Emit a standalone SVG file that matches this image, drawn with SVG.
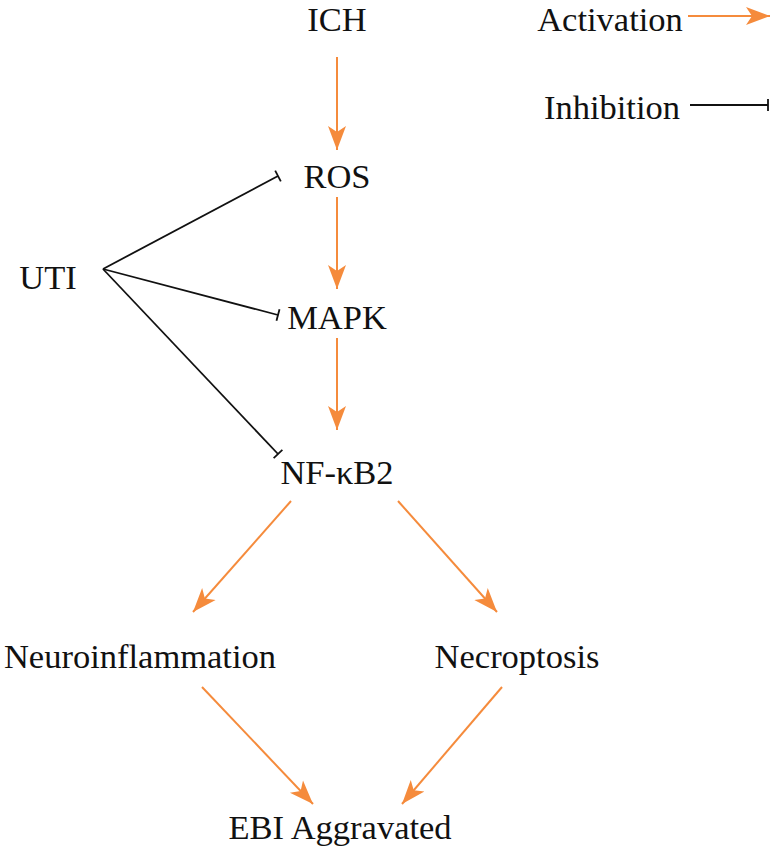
<svg xmlns="http://www.w3.org/2000/svg" width="771" height="858" viewBox="0 0 771 858">
<style>
text{font-family:"Liberation Serif","Times New Roman",serif;font-size:34.5px;fill:#111;text-anchor:middle}
.act{stroke:#F58B3C;stroke-width:2;fill:none;marker-end:url(#arr)}
.inh{stroke:#111;stroke-width:1.8;fill:none;marker-end:url(#bar)}
</style>
<defs>
<marker id="arr" markerUnits="userSpaceOnUse" markerWidth="26" markerHeight="22" viewBox="0 0 26 22" refX="24" refY="11" orient="auto">
<path d="M0,2 L24,11 L0,20 L6,11 z" fill="#F58B3C"/>
</marker>
<marker id="bar" markerUnits="userSpaceOnUse" markerWidth="4" markerHeight="14" viewBox="0 0 4 14" refX="2" refY="7" orient="auto">
<path d="M2,1 L2,13" stroke="#111" stroke-width="1.8"/>
</marker>
</defs>
<g id="connectors">
<path class="act" d="M337,57 L337,150"/>
<path class="act" d="M337,197 L337,289"/>
<path class="act" d="M337,338 L337,430"/>
<path class="inh" d="M103,269 L278,176"/>
<path class="inh" d="M103,269 L278,315"/>
<path class="inh" d="M103,269 L278,454"/>
<path class="act" d="M291,501 L193,612"/>
<path class="act" d="M398,501 L497,612"/>
<path class="act" d="M202,687 L313,804"/>
<path class="act" d="M502,687 L402,804"/>
<path class="act" d="M688,16 L770,16"/>
<path class="inh" d="M690,105 L768,105"/>
</g>
<g id="ICH"><text x="337" y="31">ICH</text></g>
<g id="ROS"><text x="337" y="188">ROS</text></g>
<g id="MAPK"><text x="337" y="329">MAPK</text></g>
<g id="NFkB2"><text x="337" y="484">NF-κB2</text></g>
<g id="UTI"><text x="48" y="289">UTI</text></g>
<g id="Neuroinflammation"><text x="140" y="668">Neuroinflammation</text></g>
<g id="Necroptosis"><text x="517" y="668">Necroptosis</text></g>
<g id="EBI"><text x="340" y="839">EBI Aggravated</text></g>
<g id="legend">
<text x="610" y="31">Activation</text>
<text x="612" y="119">Inhibition</text>
</g>
</svg>
